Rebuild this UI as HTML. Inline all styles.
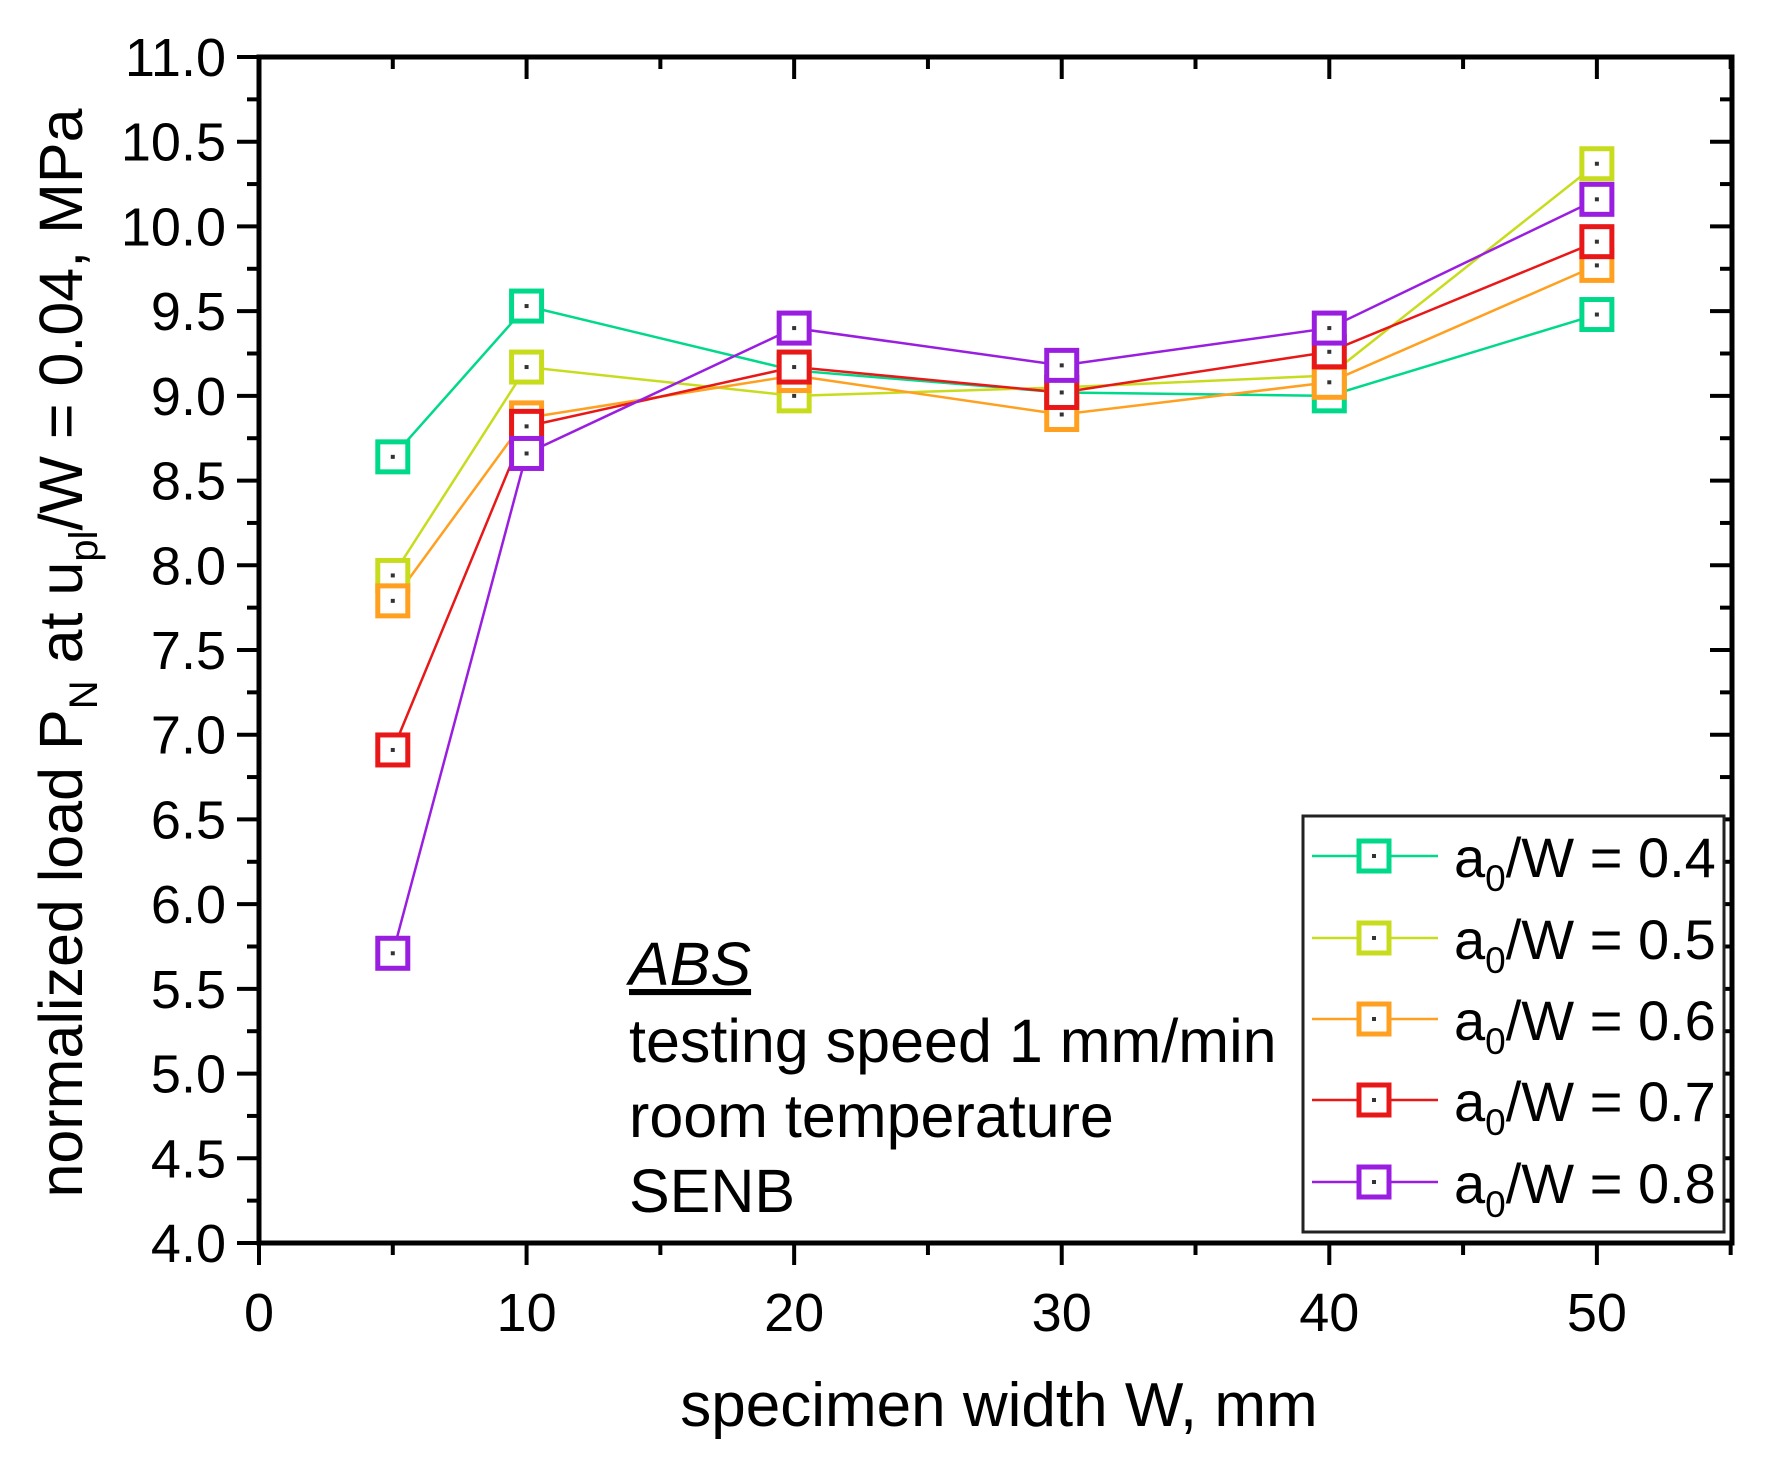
<!DOCTYPE html>
<html><head><meta charset="utf-8"><style>
html,body{margin:0;padding:0;background:#fff;}
svg{display:block;font-family:"Liberation Sans",Arial,sans-serif;}
</style></head>
<body>
<svg id="chart" width="1765" height="1469" viewBox="0 0 1765 1469" xmlns="http://www.w3.org/2000/svg">
<rect width="1765" height="1469" fill="#fff"/>
<g id="grid-ticks"></g>
<g id="series"></g>
<rect x="259" y="57" width="1473" height="1186" fill="none" stroke="#000" stroke-width="5"/>
<g id="legend">
<rect x="1303" y="816" width="421" height="416" fill="#fff" stroke="#222" stroke-width="3"/>
</g>
<text transform="translate(82,653) rotate(-90)" text-anchor="middle" font-size="61">normalized load P<tspan font-size="40" dy="15">N</tspan><tspan dy="-15"> at u</tspan><tspan font-size="40" dy="15">pl</tspan><tspan dy="-15">/W = 0.04, MPa</tspan></text>
<text x="999" y="1426" text-anchor="middle" font-size="62">specimen width W, mm</text>
<g font-size="61">
<text x="629" y="985" font-style="italic" text-decoration="underline">ABS</text>
<text x="629" y="1062">testing speed 1 mm/min</text>
<text x="629" y="1137">room temperature</text>
<text x="629" y="1212">SENB</text>
</g>
</svg>
<script>
const categories = [5, 10, 20, 30, 40, 50];
const seriesLabels = ["0.4", "0.5", "0.6", "0.7", "0.8"];
const seriesColors = ["#00d98a", "#c8dc1e", "#ffa020", "#e81818", "#9a1ee0"];
const s04 = [8.64, 9.53, 9.15, 9.02, 9.00, 9.48];
const s05 = [7.94, 9.17, 9.00, 9.05, 9.12, 10.37];
const s06 = [7.79, 8.87, 9.12, 8.89, 9.08, 9.77];
const s07 = [6.91, 8.82, 9.17, 9.02, 9.26, 9.91];
const s08 = [5.71, 8.66, 9.40, 9.18, 9.40, 10.16];
const yTickLabels = ["4.0","4.5","5.0","5.5","6.0","6.5","7.0","7.5","8.0","8.5","9.0","9.5","10.0","10.5","11.0"];
const xTickLabels = ["0","10","20","30","40","50"];
const allSeries = [s04, s05, s06, s07, s08];

const NS = "http://www.w3.org/2000/svg";
const X0 = 259, XR = 1732, YT = 57, YB = 1243;
const xMin = 0, xMax = 55.05, yMin = 4, yMax = 11;
function xs(v){ return X0 + (v - xMin) / (xMax - xMin) * (XR - X0); }
function ys(v){ return YB - (v - yMin) / (yMax - yMin) * (YB - YT); }
function mk(tag, attrs, parent){ const e = document.createElementNS(NS, tag); for (const k in attrs) e.setAttribute(k, attrs[k]); parent.appendChild(e); return e; }

const tg = document.getElementById("grid-ticks");
for (let v = 4; v <= 11.001; v += 0.25) {
  const y = ys(v);
  const major = Math.abs(v * 2 - Math.round(v * 2)) < 1e-6;
  const t = mk("line", {x1: X0 - (major ? 22 : 12), x2: X0, y1: y, y2: y, stroke: "#000", "stroke-width": 4}, tg);
  
  
  const r = mk("line", {x1: XR - (major ? 22 : 12), x2: XR, y1: y, y2: y, stroke: "#000", "stroke-width": 4}, tg);
  
  
}
yTickLabels.forEach(function(lbl){
  const t = mk("text", {x: 226, y: ys(parseFloat(lbl)) + 19, "text-anchor": "end", "font-size": 54}, tg);
  t.textContent = lbl;
  
  
});
for (let v = 0; v <= 55; v += 5) {
  const x = xs(v);
  const major = v % 10 === 0;
  const t = mk("line", {x1: x, x2: x, y1: YB, y2: YB + (major ? 22 : 12), stroke: "#000", "stroke-width": 4}, tg);
  
  
  const tp = mk("line", {x1: x, x2: x, y1: YT, y2: YT + (major ? 22 : 12), stroke: "#000", "stroke-width": 4}, tg);
  
  
}
xTickLabels.forEach(function(lbl){
  const t = mk("text", {x: xs(parseFloat(lbl)), y: 1331, "text-anchor": "middle", "font-size": 54}, tg);
  t.textContent = lbl;
  
  
});

const sg = document.getElementById("series");
const M = 30;
allSeries.forEach(function(vals, si){
  const pts = vals.map(function(v, i){ return xs(categories[i]) + "," + ys(v); }).join(" ");
  const pl = mk("polyline", {points: pts, fill: "none", stroke: seriesColors[si], "stroke-width": 2.5}, sg);
  
  
});
allSeries.forEach(function(vals, si){
  vals.forEach(function(v, i){
    const cx = xs(categories[i]), cy = ys(v);
    const r = mk("rect", {x: cx - M/2, y: cy - M/2, width: M, height: M, fill: "#fff", stroke: seriesColors[si], "stroke-width": 5}, sg);
    
    
    const d = mk("rect", {x: cx - 2, y: cy - 2, width: 4, height: 4, fill: "#333"}, sg);
    
    
  });
});

const lg = document.getElementById("legend");
const rowY = [856, 938, 1019, 1100, 1182];
seriesLabels.forEach(function(lbl, i){
  const y = rowY[i];
  const ln = mk("line", {x1: 1312, x2: 1438, y1: y, y2: y, stroke: seriesColors[i], "stroke-width": 2.5}, lg);
  
  
  const r = mk("rect", {x: 1374 - M/2, y: y - M/2, width: M, height: M, fill: "#fff", stroke: seriesColors[i], "stroke-width": 5}, lg);
  
  
  const d = mk("rect", {x: 1372, y: y - 2, width: 4, height: 4, fill: "#333"}, lg);
  
  
  const t = mk("text", {x: 1454, y: y + 21, "font-size": 56}, lg);
  t.innerHTML = 'a<tspan font-size="37" dy="14">0</tspan><tspan dy="-14">/W = ' + lbl + '</tspan>';
  
  
});
</script>
</body></html>
